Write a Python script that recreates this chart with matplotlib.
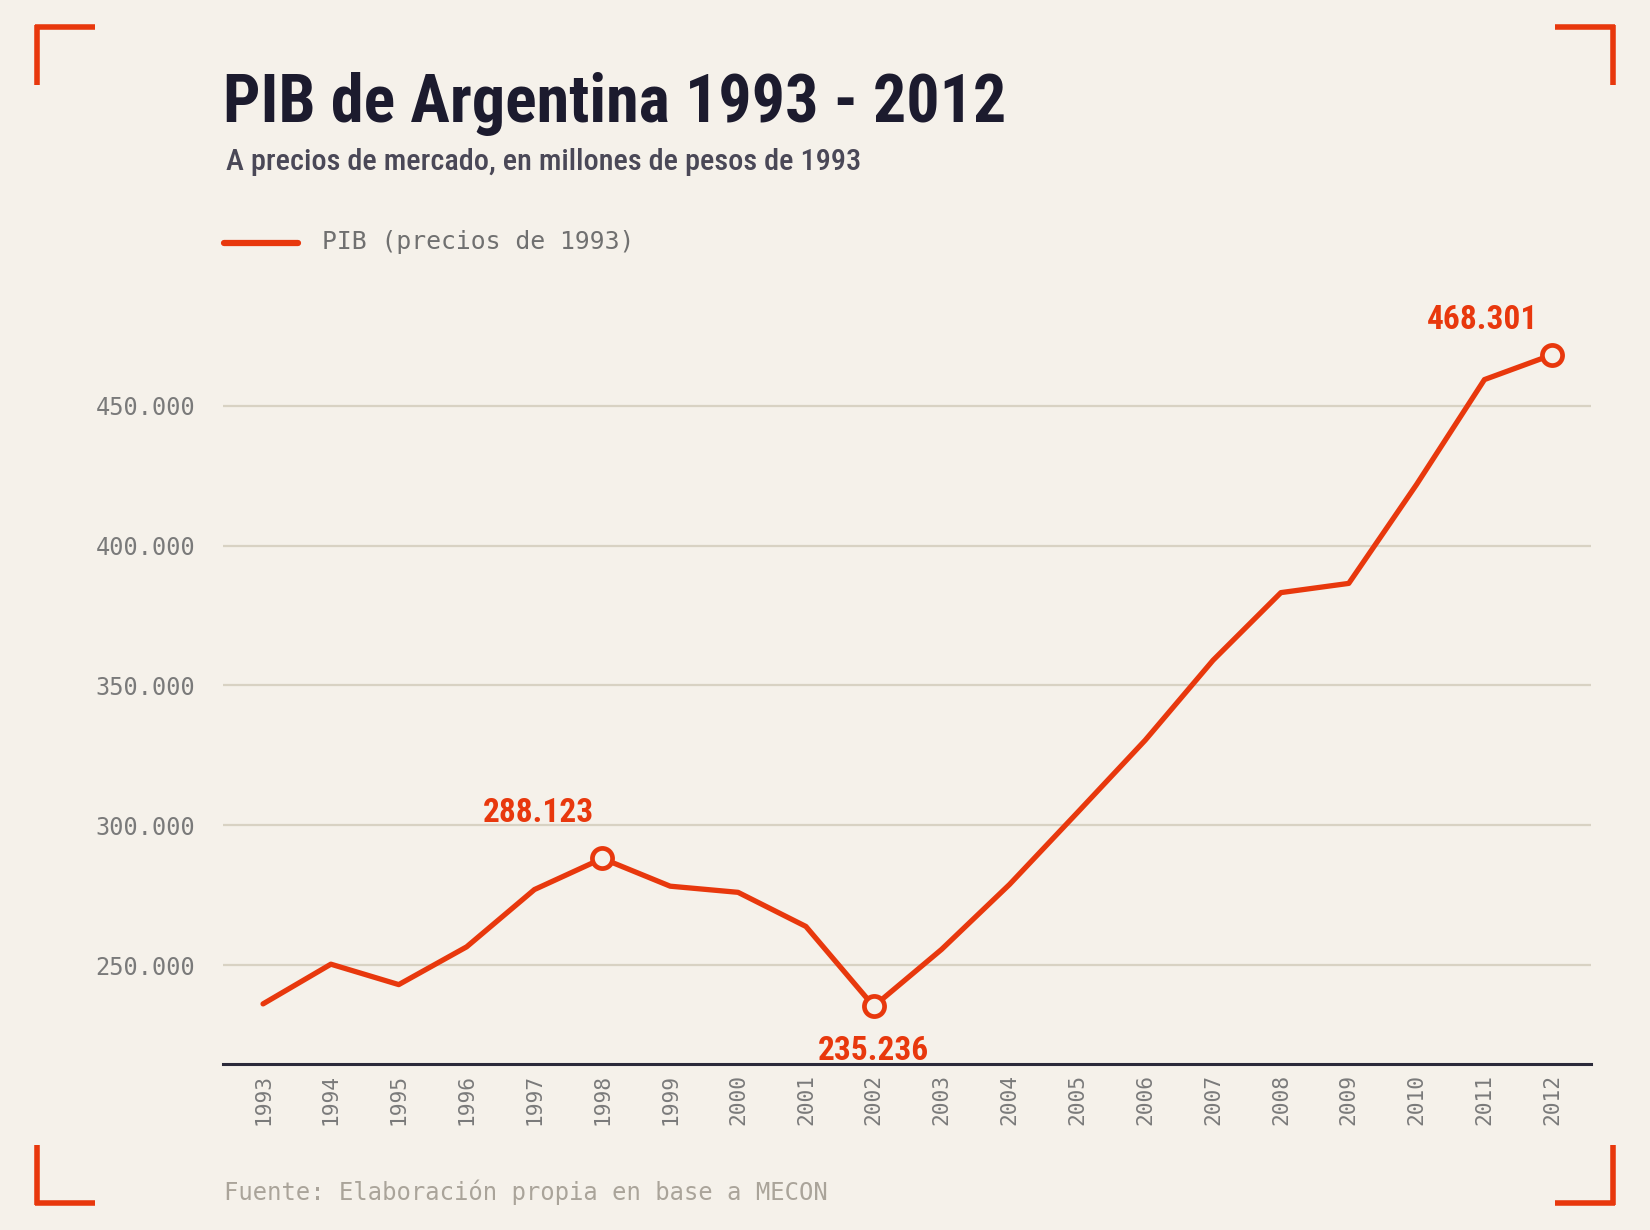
import matplotlib
matplotlib.use("Agg")
import matplotlib.pyplot as plt
from matplotlib.lines import Line2D
from matplotlib import font_manager as fm

years = [1993, 1994, 1995, 1996, 1997, 1998, 1999, 2000, 2001, 2002,
         2003, 2004, 2005, 2006, 2007, 2008, 2009, 2010, 2011, 2012]
pib = [236.1, 250.3, 243.0, 256.5, 277.0, 288.123, 278.2, 276.0, 263.8, 235.236,
       255.6, 278.8, 304.5, 330.4, 359.0, 383.2, 386.5, 421.9, 459.4, 468.301]
yticks = [250, 300, 350, 400, 450]
ytick_labels = ["250.000", "300.000", "350.000", "400.000", "450.000"]
highlights = {1998: "288.123", 2002: "235.236", 2012: "468.301"}

BG = "#f5f1ea"
RED = "#e8380d"
DARK = "#1c1b2e"
SUB = "#4a4857"
GRID = "#d8d2c3"
TICK = "#7a7a7a"

W, H = 1650, 1230
fig = plt.figure(figsize=(W / 100, H / 100), dpi=100, facecolor=BG)

def fx(px):
    return px / W

def fy(py):
    return 1 - py / H

names = {f.name for f in fm.fontManager.ttflist}
cond = None
for c in ["Roboto Condensed", "Liberation Sans Narrow", "DejaVu Sans Condensed", "Open Sans Condensed"]:
    if c in names:
        cond = c
        break
if cond is None:
    cond = "DejaVu Sans"
MONO = "DejaVu Sans Mono"

ax_l, ax_r, ax_b, ax_t = 223, 1591, 1064, 308
ymin, ymax = 214.6, 485
ax = fig.add_axes([fx(ax_l), fy(ax_b), fx(ax_r - ax_l), fy(ax_t) - fy(ax_b)])
ax.set_facecolor(BG)
ax.set_xlim(-0.59, 19.57)
ax.set_ylim(ymin, ymax)

x = list(range(len(years)))
ax.plot(x, pib, color=RED, lw=3.8, solid_joinstyle="round", solid_capstyle="round", zorder=3)

offsets = {1998: (-46, 33), 2002: (0, -32), 2012: (-50, 25)}
for yr, lab in highlights.items():
    i = years.index(yr)
    ax.plot(i, pib[i], "o", ms=14.5, mfc=BG, mec=RED, mew=3.4, zorder=4)
    ax.annotate(lab, (i, pib[i]), xytext=offsets[yr], textcoords="offset points",
                ha="center", va="center", color=RED, fontsize=24,
                fontweight="bold", family=cond, zorder=5)

ax.set_yticks(yticks)
ax.set_yticklabels(ytick_labels)
ax.set_xticks(x)
ax.set_xticklabels([str(y) for y in years], rotation=90)
ax.tick_params(axis="y", length=0, pad=20, labelsize=17, labelcolor=TICK)
ax.tick_params(axis="x", length=0, pad=7, labelsize=15.3, labelcolor=TICK)
for lbl in ax.get_xticklabels() + ax.get_yticklabels():
    lbl.set_family(MONO)
ax.grid(axis="y", color=GRID, lw=1.6)
ax.set_axisbelow(True)
for s in ["top", "right", "left"]:
    ax.spines[s].set_visible(False)
ax.spines["bottom"].set_color("#2b2a3a")
ax.spines["bottom"].set_linewidth(2.2)

# Title & subtitle
fig.text(fx(223), fy(122), "PIB de Argentina 1993 - 2012", ha="left", va="baseline",
         fontsize=47.5, fontweight="heavy", family=cond, color=DARK)
fig.text(fx(226), fy(170), "A precios de mercado, en millones de pesos de 1993",
         ha="left", va="baseline", fontsize=21.8, fontweight="medium", family=cond, color=SUB)

# Legend
fig.add_artist(Line2D([fx(224), fx(298)], [fy(243), fy(243)], color=RED, lw=4.5,
                      solid_capstyle="round"))
fig.text(fx(322), fy(242), "PIB (precios de 1993)", ha="left", va="center",
         fontsize=17.8, family=MONO, color="#707070")

# Source
fig.text(fx(224), fy(1192), "Fuente: Elaboración propia en base a MECON", ha="left",
         va="center", fontsize=17.2, family=MONO, color="#aaa49a")

# Corner brackets
lw = 4
def seg(x0, y0, x1, y1):
    fig.add_artist(Line2D([fx(x0), fx(x1)], [fy(y0), fy(y1)], color=RED, lw=lw,
                          solid_capstyle="butt"))

seg(35, 27, 95, 27); seg(37, 25, 37, 85)
seg(1555, 27, 1615, 27); seg(1613, 25, 1613, 85)
seg(35, 1203, 95, 1203); seg(37, 1145, 37, 1205)
seg(1555, 1203, 1615, 1203); seg(1613, 1145, 1613, 1205)

fig.savefig("out.png", dpi=100, facecolor=BG)
